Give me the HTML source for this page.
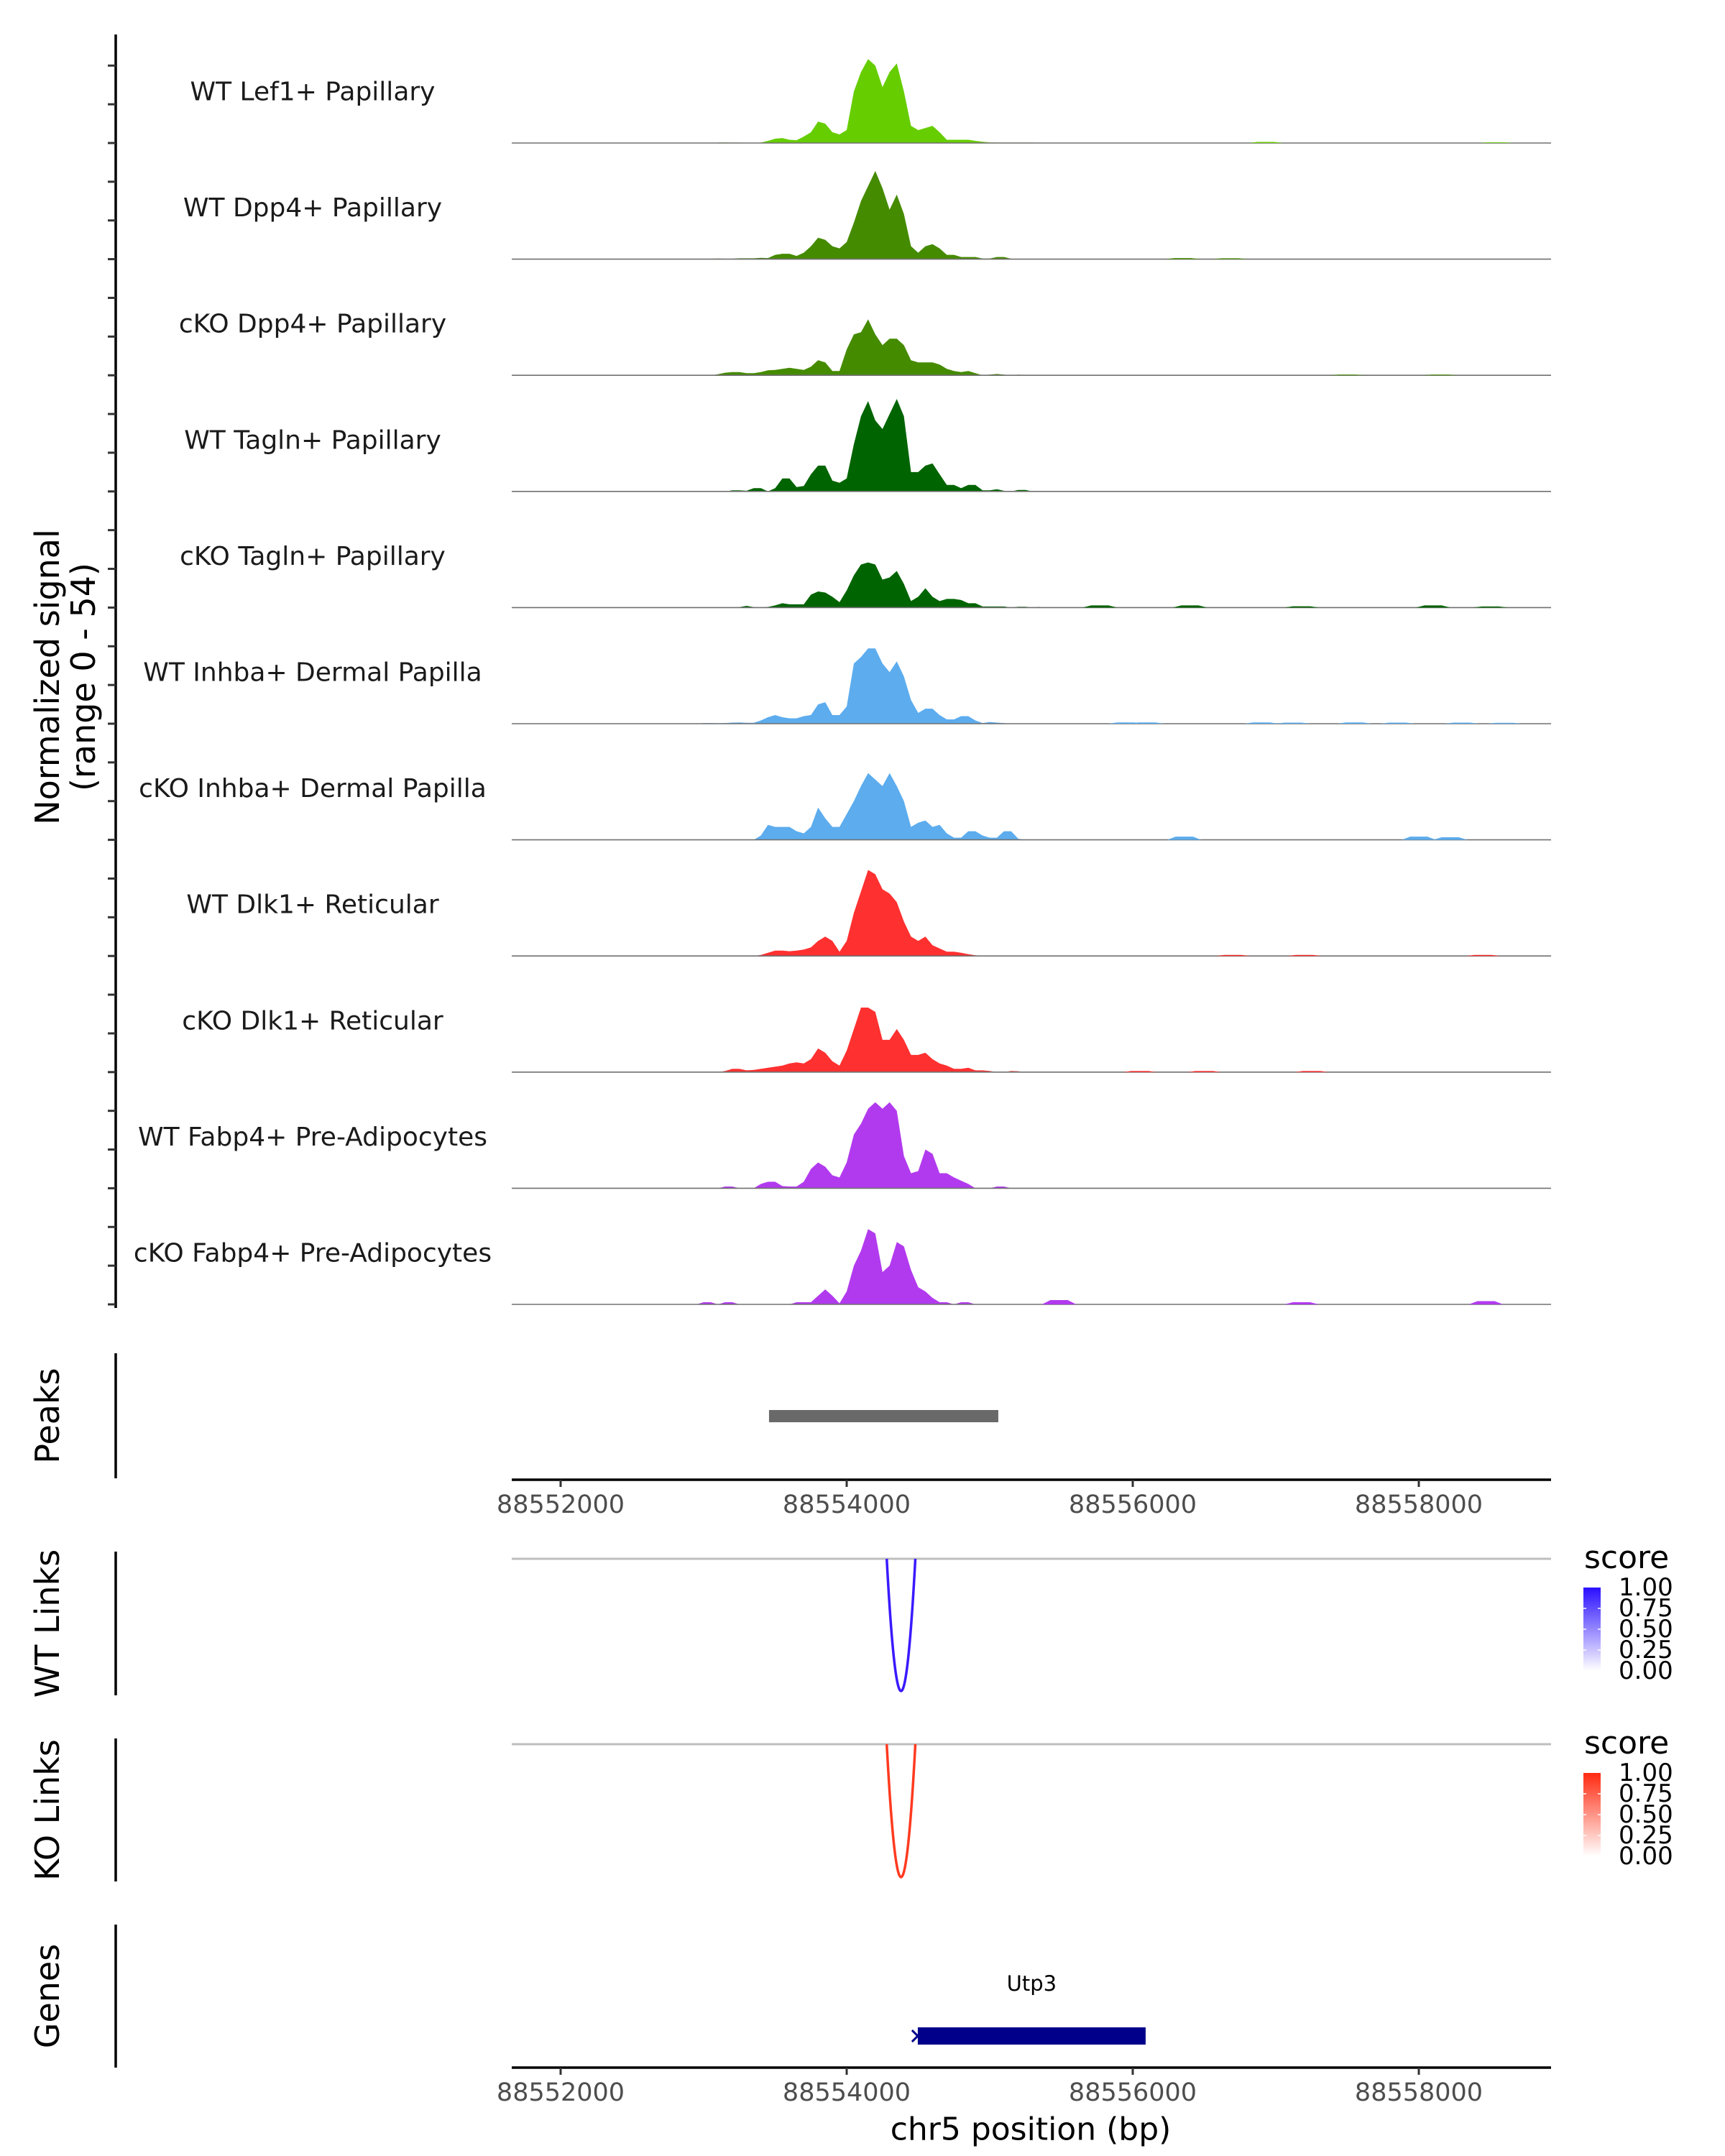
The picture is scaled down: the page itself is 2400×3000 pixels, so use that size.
<!DOCTYPE html>
<html><head><meta charset="utf-8">
<style>
html,body{margin:0;padding:0;background:#fff;}
svg{display:block;}
text{font-family:"DejaVu Sans","Liberation Sans",sans-serif;}
</style></head>
<body>
<svg id="chart" width="2400" height="3000" viewBox="0 0 2400 3000" xmlns="http://www.w3.org/2000/svg">
<defs>
<linearGradient id="gBlue" x1="0" y1="1" x2="0" y2="0"><stop offset="0" stop-color="#ffffff"/><stop offset="1" stop-color="#2a0fff"/></linearGradient>
<linearGradient id="gRed" x1="0" y1="1" x2="0" y2="0"><stop offset="0" stop-color="#ffffff"/><stop offset="1" stop-color="#ff2a10"/></linearGradient>
</defs>
</svg>
<script>
// ---- data ----
const trackNames = ["WT Lef1+ Papillary","WT Dpp4+ Papillary","cKO Dpp4+ Papillary","WT Tagln+ Papillary","cKO Tagln+ Papillary","WT Inhba+ Dermal Papilla","cKO Inhba+ Dermal Papilla","WT Dlk1+ Reticular","cKO Dlk1+ Reticular","WT Fabp4+ Pre-Adipocytes","cKO Fabp4+ Pre-Adipocytes"];
const trackColors = ["#66cd00","#458b00","#458b00","#006400","#006400","#5cacee","#5cacee","#ff3030","#ff3030","#b23aee","#b23aee"];
const binStart = 88552850;
const binSize = 50;
const sigLef1 = [0,0,0,0,0,0.2,0.3,0.2,0.2,0.1,0.1,0.2,1,2,2.3,1.5,1.3,3,5,10,9,5,4,6,24,33,39,36,26,33,37,24,8,6,7,8,5,1.5,1.5,1.5,1.5,1,0.6,0.3,0.2,0.2,0.2,0.2,0.2,0.2,0];
const sigWTDpp4 = [0,0,0,0,0.2,0.3,0.2,0.2,0.4,0.4,0.4,0.6,0.5,2,2.5,2.5,1.5,3,6,10,9,6,5,8,17,27,34,41,33,23,30,21,6,3,6,7,5,2,2,1,1,1,0.3,0.3,1,1,0.2,0,0,0,0];
const sigKODpp4 = [0,0,0,0,0,0.5,1.2,1.5,1.5,1,1,1.5,2.3,2.5,3,3.5,3,2.5,4,7,6,2,2,12,19,20,26,19,14,17,17,14,7,6,6,6,5,3,2,1.5,2,1,0,0.3,0.6,0.3,0,0.3,0,0,0];
const sigWTTagln = [0,0,0,0,0,0,0,0.5,0.5,0.3,1.5,1.5,0,1.5,6,6,2,2.5,8,12,12,5,4,6,22,35,42,33,29,36,43,35,9,9,12,13,8,3,3,1.5,3,3,0.5,0.5,1,0.3,0,0.7,0.7,0,0];
const sigKOTagln = [0,0,0,0,0,0,0,0,0.2,0.8,0.2,0,0.3,1,2,1.5,1.5,1.5,6,7.5,7,5,2.5,8,15,20,21,20,13,14,17,11,3,5,9,5,3,4,4,3.5,2,2,0.5,0.5,0.5,0.5,0,0.4,0.4,0,0.3];
const sigWTInhba = [0,0,0,0.3,0.3,0.2,0.3,0.5,0.6,0.4,0.4,1.5,3,4,3,2.5,2.5,3.5,4,9,10,4,4,8,28,31,35,35,28,24,29,22,11,5,7,7,4,2,2,3.5,3.5,1.5,0.3,0.8,0.5,0.3,0,0,0,0,0];
const sigKOInhba = [0,0,0,0,0,0,0,0,0,0,0,2,7,6,6,6,4,3,6,15,10,6,6,12,18,25,31,28,25,31,25,18,6,8,9,6,7,3,1,1,4,4,2,1,1,4,4,0.5,0,0,0];
const sigWTDlk1 = [0,0,0,0,0,0,0,0,0,0,0,0.5,1.5,2.5,2.5,2.2,2.5,3,4,7,9,7,2,7,20,30,40,38,31,29,25,16,9,7,9,5,3.5,2,2,1.5,0.8,0.3,0,0,0,0,0,0,0,0,0];
const sigKODlk1 = [0,0,0,0,0,0,0.5,1.5,1.5,0.8,1,1.5,2,2.5,3,4,4.5,4,6,11,9,5,3,10,20,30,30,28,15,15,20,15,8,8,9,6,4,3,1.5,1.5,2,0.8,0.8,0.5,0,0,0.5,0.4,0,0,0];
const sigWTFabp4 = [0,0,0,0,0,0,0.8,0.8,0,0,0,2,3,3,1,0.8,0.8,3,9,12,10,6,5,12,25,30,37,40,37,40,36,15,7,8,18,16,7,7,5,3.5,2,0,0,0,0.8,0.8,0,0,0,0,0];
const sigKOFabp4 = [0,0,0,1,1,0,1,1,0,0,0,0,0,0,0,0,1,1,1,4,7,4,0.5,6,18,25,35,33,15,18,29,27,16,8,6,3,1,1,0,1,1,0,0,0,0,0,0,0,0,0,0];
const signals = [sigLef1,sigWTDpp4,sigKODpp4,sigWTTagln,sigKOTagln,sigWTInhba,sigKOInhba,sigWTDlk1,sigKODlk1,sigWTFabp4,sigKOFabp4];
// minor isolated bumps: track index, centre bp, height
const minorTrack = [0,0,1,1,2,2,4,4,4,4,4,5,5,5,5,5,5,5,5,6,6,6,7,7,7,8,8,8,10,10,10];
const minorPos = [88556930,88558540,88556350,88556680,88557500,88558150,88555770,88556400,88557180,88558100,88558500,88555950,88556100,88556900,88557120,88557550,88557850,88558300,88558600,88556360,88558000,88558220,88556700,88557200,88558450,88556050,88556500,88557250,88555485,88557180,88558470];
const minorHeight = [0.5,0.3,0.5,0.4,0.3,0.3,1,1,0.6,1,0.5,0.6,0.6,0.6,0.5,0.6,0.5,0.5,0.4,1.5,1.5,1.2,0.5,0.5,0.5,0.5,0.5,0.5,2,1,1.5];
const xTicks = [88552000,88554000,88556000,88558000];
const peakStart = [88553457];
const peakEnd = [88555060];
const linkStart = [88554280];
const linkEnd = [88554480];
const linkScore = [1.0];
const geneName = ["Utp3"];
const geneStart = [88554497];
const geneEnd = [88556090];
const legendTicks = ["1.00","0.75","0.50","0.25","0.00"];

// ---- scales ----
const svg = document.getElementById('chart');
const NS = 'http://www.w3.org/2000/svg';
const X0 = 712, X1 = 2158;
function xs(bp){ return 780 + (bp - 88552000) * 0.199; }
const trackH = 161.6, firstBase = 199, yMax = 54;
function ys(k, v){ return firstBase + k*trackH - v/yMax*trackH; }
function mk(tag, attrs, parent){
  const e = document.createElementNS(NS, tag);
  for (const k in attrs) e.setAttribute(k, attrs[k]);
  (parent||svg).appendChild(e);
  return e;
}

// ---- coverage tracks ----
signals.forEach((sig, k) => {
  const base = ys(k, 0);
  let pts = [];
  pts.push([xs(binStart), base]);
  sig.forEach((v, i) => { pts.push([xs(binStart + i*binSize), ys(k, v)]); });
  pts.push([xs(binStart + (sig.length-1)*binSize), base]);
  const area = mk('polygon', {points: pts.map(p=>p[0].toFixed(1)+','+p[1].toFixed(1)).join(' '), fill: trackColors[k]});
  
  
  const bl = mk('line', {x1:X0, x2:X1, y1:base, y2:base, stroke:'#707070', 'stroke-width':1.6});
  
  
  const lab = mk('text', {x:435, y:base-71, 'font-size':36, 'text-anchor':'middle', 'dominant-baseline':'central', fill:'#1a1a1a'});
  lab.textContent = trackNames[k];
  
  
});
minorTrack.forEach((k, j) => {
  const c = minorPos[j], h = minorHeight[j];
  const pts = [[xs(c-120), ys(k,0)],[xs(c-60), ys(k,h)],[xs(c+60), ys(k,h)],[xs(c+120), ys(k,0)]];
  const b = mk('polygon', {points: pts.map(p=>p[0].toFixed(1)+','+p[1].toFixed(1)).join(' '), fill: trackColors[k]});
  
  
});

// ---- y axis ----
const yax = mk('line', {x1:161, x2:161, y1:48, y2:1820, stroke:'#000', 'stroke-width':3.5});


for (let k=0;k<11;k++){
  for (let t=0;t<3;t++){
    const y = ys(k, t*18);
    const tk = mk('line', {x1:150, x2:161, y1:y, y2:y, stroke:'#333', 'stroke-width':3});
    
    
  }
}
const yt1 = mk('text', {x:0, y:0, 'font-size':46, 'text-anchor':'middle', transform:'translate(82,942) rotate(-90)', fill:'#000'});
yt1.textContent = 'Normalized signal';


const yt2 = mk('text', {x:0, y:0, 'font-size':46, 'text-anchor':'middle', transform:'translate(132,942) rotate(-90)', fill:'#000'});
yt2.textContent = '(range 0 - 54)';



// ---- side panel axes & titles ----
const panels = [['Peaks',1883,2057],['WT Links',2159,2359],['KO Links',2419,2618],['Genes',2678,2877]];
panels.forEach(p => {
  const l = mk('line', {x1:161, x2:161, y1:p[1], y2:p[2], stroke:'#000', 'stroke-width':3.5});
  
  
  const t = mk('text', {x:0, y:0, 'font-size':46, 'text-anchor':'middle', transform:'translate(82,'+((p[1]+p[2])/2)+') rotate(-90)', fill:'#000'});
  t.textContent = p[0];
  
  
});

// ---- peaks ----
peakStart.forEach((s, i) => {
  const r = mk('rect', {x:xs(s), y:1962, width:xs(peakEnd[i])-xs(s), height:17, fill:'#696969'});
  
  
});

// ---- x axes ----
function xAxis(y, tag){
  const a = mk('line', {x1:X0, x2:X1, y1:y, y2:y, stroke:'#000', 'stroke-width':3.5});
  
  
  xTicks.forEach(v => {
    const tk = mk('line', {x1:xs(v), x2:xs(v), y1:y, y2:y+10, stroke:'#333', 'stroke-width':3});
    
    
    const tl = mk('text', {x:xs(v), y:y+35, 'font-size':35, 'text-anchor':'middle', 'dominant-baseline':'central', fill:'#4d4d4d'});
    tl.textContent = String(v);
    
    
  });
}
xAxis(2059, 'peaks');
xAxis(2877, 'genes');
const xt = mk('text', {x:1434, y:2963, 'font-size':44, 'text-anchor':'middle', 'dominant-baseline':'central', fill:'#000'});
xt.textContent = 'chr5 position (bp)';



// ---- links ----
function linkPanel(top, bottom, color, grad, tag){
  const g = mk('line', {x1:X0, x2:X1, y1:top, y2:top, stroke:'#bebebe', 'stroke-width':3});
  
  
  linkStart.forEach((s, i) => {
    const a = xs(s), b = xs(linkEnd[i]), depth = (bottom - top) * linkScore[i];
    const p = mk('path', {d:'M'+a+','+top+' Q'+((a+b)/2)+','+(top+2*depth)+' '+b+','+top, fill:'none', stroke:color, 'stroke-width':3.5});
    
    
  });
  const lt = mk('text', {x:2204, y:top+13, 'font-size':44, fill:'#000'});
  lt.textContent = 'score';
  
  
  const cb = mk('rect', {x:2203, y:top+40, width:24, height:116, fill:'url(#'+grad+')'});
  
  
  legendTicks.forEach((t, j) => {
    const y = top + 40 + j*29;
    const tx = mk('text', {x:2252, y:y, 'font-size':34, 'dominant-baseline':'central', fill:'#000'});
    tx.textContent = t;
    
    
    if (j>0 && j<4){
      mk('line', {x1:2203, x2:2207, y1:y, y2:y, stroke:'#fff', 'stroke-width':1.5});
      mk('line', {x1:2223, x2:2227, y1:y, y2:y, stroke:'#fff', 'stroke-width':1.5});
    }
  });
}
linkPanel(2169, 2353, '#3a1aff', 'gBlue', 'wt');
linkPanel(2427, 2612, '#ff3a20', 'gRed', 'ko');

// ---- genes ----
geneStart.forEach((s, i) => {
  const r = mk('rect', {x:xs(s), y:2821, width:xs(geneEnd[i])-xs(s), height:24, fill:'#00008b'});
  
  
  const ar = mk('path', {d:'M'+(xs(s)-8)+',2825 L'+xs(s)+',2833 L'+(xs(s)-8)+',2841', fill:'none', stroke:'#00008b', 'stroke-width':3});
  
  
  const gl = mk('text', {x:(xs(s)+xs(geneEnd[i]))/2, y:2760, 'font-size':29, 'text-anchor':'middle', 'dominant-baseline':'central', fill:'#000'});
  gl.textContent = geneName[i];
  
  
});
</script>
</body></html>
